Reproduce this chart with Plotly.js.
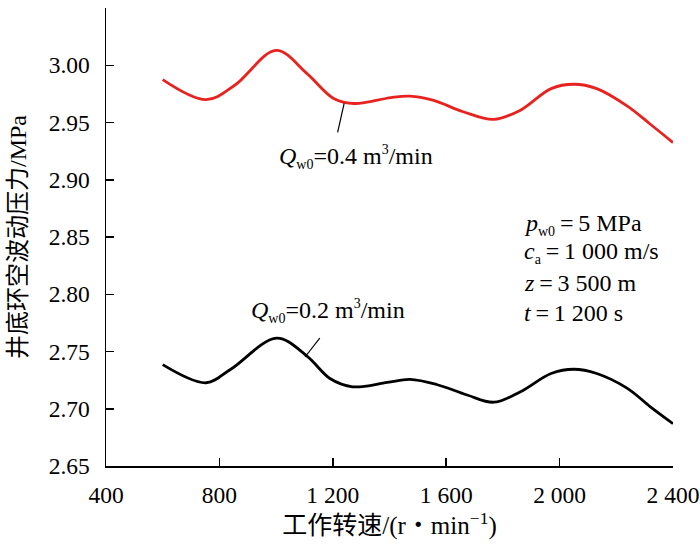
<!DOCTYPE html>
<html><head><meta charset="utf-8">
<script src="https://cdn.plot.ly/plotly-3.0.1.min.js"></script>
<style>body{margin:0;background:#fff}#c{width:700px;height:548px}</style>
</head><body><div id="c"></div>
<script>
const speedRed = [600, 753, 854, 1000, 1109, 1203, 1277, 1405, 1472, 1553, 1660, 1768, 1862, 1970, 2050, 2131, 2239, 2319, 2400];
const pressureRed = [2.9875, 2.970, 2.9825, 3.013, 2.9927, 2.971, 2.9666, 2.9718, 2.973, 2.9695, 2.9594, 2.9527, 2.9608, 2.9796, 2.9834, 2.9796, 2.9643, 2.9487, 2.9325];
const speedBlack = [600, 753, 840, 1002, 1109, 1190, 1270, 1392, 1472, 1566, 1674, 1768, 1862, 1970, 2050, 2131, 2239, 2319, 2400];
const pressureBlack = [2.7385, 2.7227, 2.7345, 2.7616, 2.746, 2.7264, 2.7192, 2.723, 2.7256, 2.7212, 2.712, 2.7057, 2.7149, 2.7308, 2.7345, 2.7308, 2.7178, 2.7019, 2.687];
const xTickVals = [400, 800, 1200, 1600, 2000, 2400];
const xTickText = ['400', '800', '1 200', '1 600', '2 000', '2 400'];
const yTickVals = [2.65, 2.70, 2.75, 2.80, 2.85, 2.90, 2.95, 3.00, 3.05];
const sm = s => '<span style="font-size:14px">' + s + '</span>';
const labelRed = '<i>Q</i><sub>' + sm('w0') + '</sub>=0.4 m<sup>' + sm('3') + '</sup>/min';
const labelBlack = '<i>Q</i><sub>' + sm('w0') + '</sub>=0.2 m<sup>' + sm('3') + '</sup>/min';
const infoLines = ['<i>p</i><sub>' + sm('w0') + '</sub>\u2009=\u20095 MPa', '<i>c</i><sub>' + sm('a') + '</sub>\u2009=\u20091 000 m/s', '<i>z</i>\u2009=\u20093 500 m', '<i>t</i>\u2009=\u20091 200 s'];

const serif = 'Liberation Serif, Times New Roman, serif';
const cjk = 'Liberation Serif, Noto Sans CJK SC, serif';

const traces = [
  {x: speedRed, y: pressureRed, mode: 'lines', line: {color: '#e8231f', width: 2.8, shape: 'spline', smoothing: 1}, hoverinfo: 'none'},
  {x: speedBlack, y: pressureBlack, mode: 'lines', line: {color: '#000', width: 2.8, shape: 'spline', smoothing: 1}, hoverinfo: 'none'}
];

const infoY = [2.861, 2.8363, 2.810, 2.784];
const annotations = [
  {x: 1282, y: 2.920, text: labelRed, showarrow: false, font: {family: serif, size: 24, color: '#000'}},
  {x: 1183, y: 2.7854, text: labelBlack, showarrow: false, font: {family: serif, size: 24, color: '#000'}}
].concat(infoLines.map((t, i) => ({x: 1867, y: infoY[i], text: t, xanchor: 'left', showarrow: false, font: {family: serif, size: 24, color: '#000'}})));

const layout = {
  width: 700, height: 548,
  margin: {l: 106, r: 27, t: 8, b: 82},
  paper_bgcolor: '#fff', plot_bgcolor: '#fff',
  showlegend: false,
  xaxis: {
    range: [400, 2400], tickvals: xTickVals, ticktext: xTickText,
    ticks: 'inside', ticklen: 8, tickwidth: 1.5, tickcolor: '#000',
    showline: true, linecolor: '#000', linewidth: 1.5, showgrid: false, zeroline: false,
    tickfont: {family: serif, size: 23.5, color: '#000'}, ticklabelstandoff: 7,
    title: {text: '工作转速/(r・min<sup>−1</sup>)', font: {family: cjk, size: 25, color: '#000'}, standoff: 5}
  },
  yaxis: {
    range: [2.65, 3.05], tickvals: yTickVals, tickformat: '.2f',
    ticks: 'inside', ticklen: 8, tickwidth: 1.5, tickcolor: '#000',
    showline: true, linecolor: '#000', linewidth: 1.5, showgrid: false, zeroline: false,
    tickfont: {family: serif, size: 23.5, color: '#000'}, ticklabelstandoff: 10,
    title: {text: '井底环空波动压力/MPa', font: {family: cjk, size: 24, color: '#000'}, standoff: 15}
  },
  annotations: annotations,
  shapes: [
    {type: 'line', xref: 'x', yref: 'y', x0: 1217, y0: 2.9414, x1: 1240, y1: 2.9666, line: {color: '#000', width: 1.2}},
    {type: 'line', xref: 'x', yref: 'y', x0: 1102, y0: 2.7452, x1: 1154, y1: 2.7616, line: {color: '#000', width: 1.2}}
  ]
};
Plotly.newPlot('c', traces, layout, {staticPlot: true, displayModeBar: false});
</script></body></html>
